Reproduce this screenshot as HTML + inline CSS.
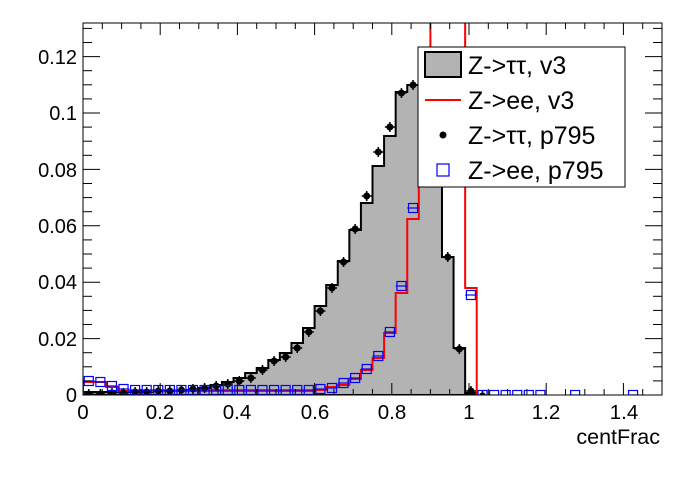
<!DOCTYPE html>
<html><head><meta charset="utf-8"><style>
html,body{margin:0;padding:0;background:#fff}
svg text{font-family:"Liberation Sans",sans-serif;fill:#000}
</style></head><body>
<svg id="s" width="696" height="472" viewBox="0 0 696 472" xmlns="http://www.w3.org/2000/svg">
<defs><clipPath id="c"><rect x="83" y="23" width="579" height="372"/></clipPath></defs>
<g id="plot" clip-path="url(#c)"></g>
<rect x="83" y="23" width="579" height="372" fill="none" stroke="#000" stroke-width="1"/>
<g id="ticks" stroke="#000" stroke-width="1"></g>
<g font-size="20.5" text-anchor="middle">
<text x="83" y="419">0</text><text x="160" y="419">0.2</text><text x="237" y="419">0.4</text>
<text x="315" y="419">0.6</text><text x="392" y="419">0.8</text><text x="469" y="419">1</text>
<text x="546" y="419">1.2</text><text x="624" y="419">1.4</text>
</g>
<g font-size="20" text-anchor="end">
<text x="77" y="402">0</text><text x="77" y="346">0.02</text><text x="77" y="289">0.04</text>
<text x="77" y="233">0.06</text><text x="77" y="177">0.08</text><text x="77" y="120">0.1</text>
<text x="77" y="64">0.12</text>
</g>
<text x="660" y="444" font-size="21.5" text-anchor="end">centFrac</text>
<rect x="418" y="47" width="207" height="140" fill="#fff" stroke="#000" stroke-width="1"/>
<rect x="425" y="52" width="36" height="25" fill="#b3b3b3" stroke="#000" stroke-width="2"/>
<line x1="425" y1="100" x2="461" y2="100" stroke="#f00" stroke-width="2"/>
<circle cx="443" cy="135" r="3.5" fill="#000"/>
<rect x="437" y="164" width="12" height="12" fill="#fff" stroke="#00f" stroke-width="1.2"/>
<g font-size="25">
<text x="468" y="74">Z-&gt;ττ, v3</text>
<text x="468" y="109">Z-&gt;ee, v3</text>
<text x="468" y="144">Z-&gt;ττ, p795</text>
<text x="468" y="179">Z-&gt;ee, p795</text>
</g>
</svg>
<script>
var X=function(v){return 83+386*v;},B=0.03,NS="http://www.w3.org/2000/svg";
function el(p,t,a){var e=document.createElementNS(NS,t);for(var k in a)e.setAttribute(k,a[k]);p.appendChild(e);return e;}
var plot=document.getElementById('plot'),tk=document.getElementById('ticks');
var gray=[392,392,392,392,392,392,391,391,391,390,388,385,382,378,373,368,360,353,343,328,306,285,261,230,203,166,136,92,85,109,164,257,348,393];
var red=[382,382,387,391,391,391,391,391,391,391,391,391,391,391,391,391,391,391,391,391,390,387,385,379,370,358,333,293,219,95,0,0,0,288];
var dots=[394,394,393,393,392,392,391,391,390,389,388,386,384,381,378,370,361,357,348,332,311,288,262,229,196,152,127,93,85,110,173,257,349,391,396];
var blue={0:381,1:382,2:386,3:389,20:389,21:388,22:383,23:378,24:369,25:356,26:332,27:286,28:208,29:81,30:171,33:295,34:395,35:395,36:395,37:395,38:395,39:395,42:395,47:395};
for(var i=4;i<20;i++)blue[i]=390;
function hp(a){var d="M"+X(0)+",395";for(var i=0;i<a.length;i++){d+="L"+X(i*B)+","+a[i]+"L"+X((i+1)*B)+","+a[i];}d+="L"+X(a.length*B)+",395";return d;}
el(plot,'path',{d:hp(gray)+"Z",fill:"#b3b3b3",stroke:"#000","stroke-width":2});
el(plot,'path',{d:hp(red),fill:"none",stroke:"#f00","stroke-width":2});
dots.forEach(function(y,i){var x=X((i+0.5)*B);el(plot,'line',{x1:x,y1:y-5,x2:x,y2:y+5,stroke:"#000","stroke-width":1.5});el(plot,'line',{x1:x-5,y1:y,x2:x+5,y2:y,stroke:"#000","stroke-width":1.5});el(plot,'circle',{cx:x,cy:y,r:3.5,fill:"#000"});});
for(var k in blue){var x=X((+k+0.5)*B),y=blue[k];el(plot,'line',{x1:x-5.8,y1:y,x2:x+5.8,y2:y,stroke:"#00f","stroke-width":1.2});el(plot,'rect',{x:x-4.5,y:y-4.5,width:9,height:9,fill:"none",stroke:"#00f","stroke-width":1.2});}
for(var j=0;j<=30;j++){var v=j*0.05,x=X(v),L=(j%4==0)?12:6;el(tk,'line',{x1:x,y1:395,x2:x,y2:395-L});el(tk,'line',{x1:x,y1:23,x2:x,y2:23+L});}
for(var j=0;j<=26;j++){var y=395-2820*j*0.005,L=(j%4==0)?17:9;if(y<23)break;el(tk,'line',{x1:83,y1:y,x2:83+L,y2:y});el(tk,'line',{x1:662,y1:y,x2:662-L,y2:y});}
</script>
</body></html>
